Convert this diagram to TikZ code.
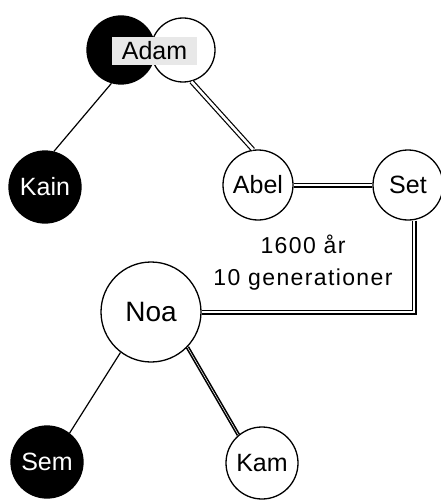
\documentclass[tikz,border=0pt]{standalone}
\usepackage{fontspec}
\setmainfont{Liberation Sans}
\begin{document}
\begin{tikzpicture}[x=1pt,y=-1pt,
  person/.style={circle,draw=black,line width=1.3pt,inner sep=0pt,
     font=\fontsize{25}{28}\selectfont},
  dead/.style={person,fill=black,text=white},
  alive/.style={person,fill=white,text=black},
  thin/.style={line width=1.2pt},
  dbl/.style={double,double distance=2.6pt,line width=1.2pt},
  dblheavy/.style={double,double distance=0.5pt,line width=1.6pt}]
\useasboundingbox (0,0) rectangle (441,500);
% Adam (two overlapping circles)
\node[dead,minimum size=68pt] (adamL) at (121,50) {};
\node[alive,minimum size=64pt] (adamR) at (183,50) {};
\node[fill=black!9,inner sep=0pt,minimum width=85pt,minimum height=28pt,
      font=\fontsize{25}{28}\selectfont] (adam) at (154.5,51) {Adam};
% other persons
\node[dead,minimum size=72pt] (kain) at (45,187) {Kain};
\node[alive,minimum size=70pt] (abel) at (258,185) {Abel};
\node[alive,minimum size=70pt] (set) at (408,185) {Set};
\node[alive,minimum size=100pt,font=\fontsize{28}{30}\selectfont] (noa) at (151,312) {Noa};
\node[dead,minimum size=72pt] (sem) at (47,462) {Sem};
\node[alive,minimum size=72pt] (kam) at (262,463) {Kam};
% label
\node[align=center,inner sep=0pt,
      font=\fontsize{23}{32}\selectfont\addfontfeature{LetterSpace=6}] (lbl) at (303,263)
      {1600 år\\10 generationer};
% connectors
\draw[thin] (adamL.-106) -- (kain.76);
\draw[dbl] (adamR.-75) -- (abel.98);
\draw[dbl] (abel.east) -- (set.west);
\draw[dbl] ([xshift=6pt]set.south) |- (noa.east);
\draw[thin] (noa.-127) -- (sem.52);
\draw[dblheavy] (noa.-44) -- (kam.130);
\end{tikzpicture}
\end{document}
